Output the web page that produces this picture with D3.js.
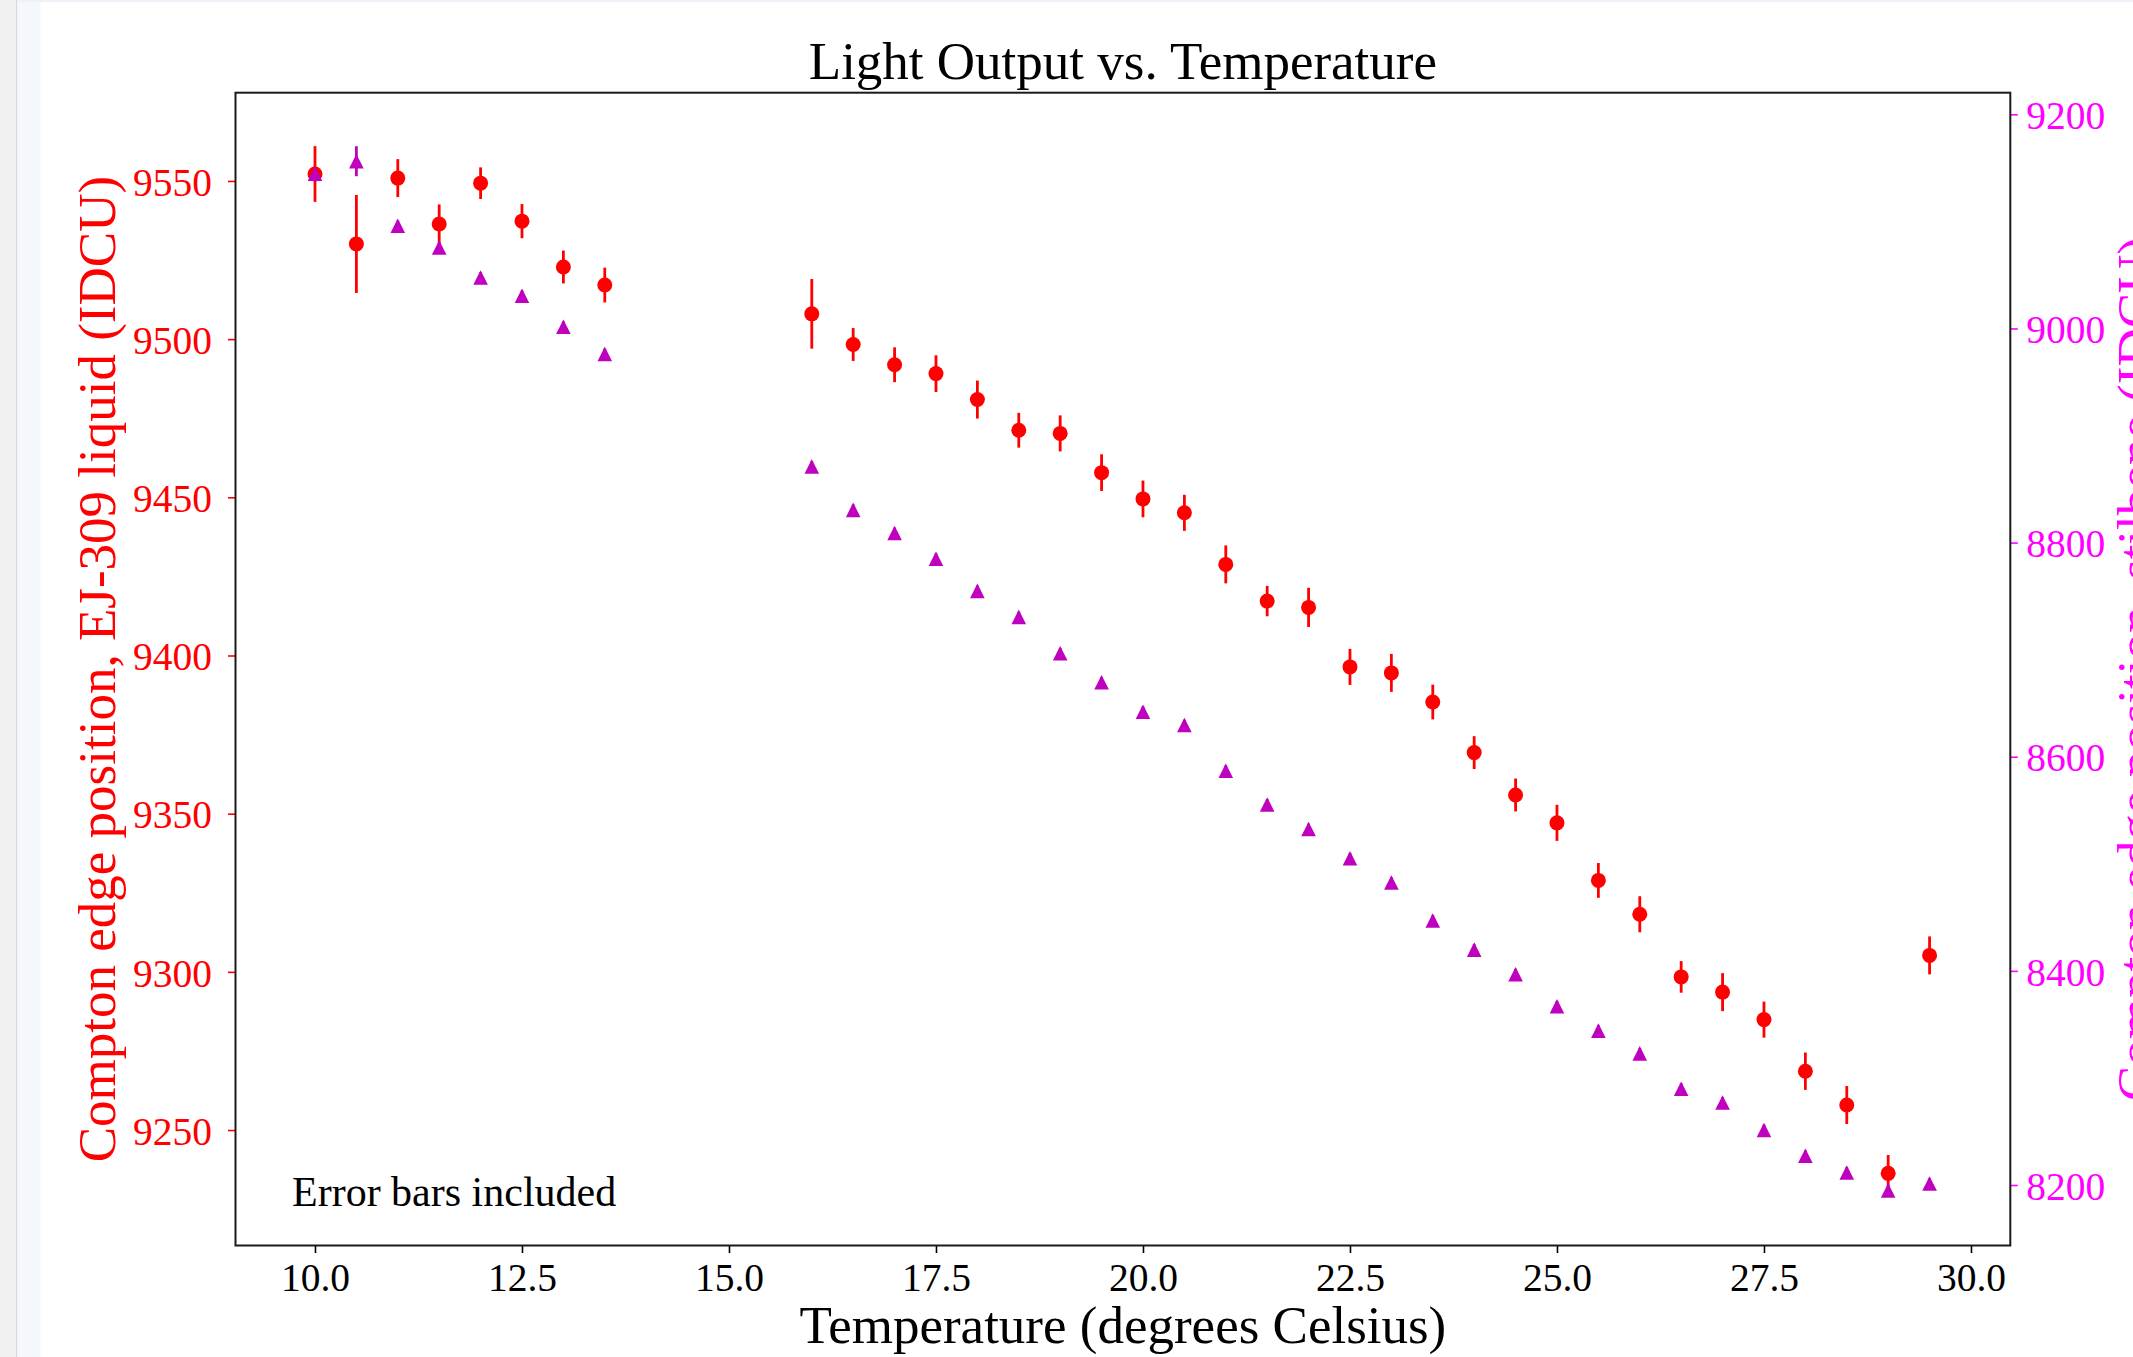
<!DOCTYPE html>
<html>
<head>
<meta charset="utf-8">
<script src="https://d3js.org/d3.v7.min.js"></script>
<style>
  html, body { margin: 0; padding: 0; background: #fff; overflow: hidden; }
  svg { display: block; font-family: "Liberation Serif", "Times New Roman", serif; }
  svg text { font-family: "Liberation Serif", "Times New Roman", serif; }
</style>
</head>
<body>
<svg id="chart" width="2133" height="1357"></svg>
<script>
// temperatures (degrees Celsius)
const temps = [10.0, 10.5, 11.0, 11.5, 12.0, 12.5, 13.0, 13.5,
  16.0, 16.5, 17.0, 17.5, 18.0, 18.5, 19.0, 19.5, 20.0, 20.5, 21.0, 21.5,
  22.0, 22.5, 23.0, 23.5, 24.0, 24.5, 25.0, 25.5, 26.0, 26.5, 27.0, 27.5,
  28.0, 28.5, 29.0, 29.5];

// EJ-309 liquid compton edge (left axis) + errors
const liquidEdge = [9552.2, 9530.1, 9550.9, 9536.4, 9549.3, 9537.3, 9522.8, 9517.1,
  9508.0, 9498.3, 9491.9, 9489.1, 9480.9, 9471.2, 9470.2, 9457.8, 9449.5, 9445.1, 9428.8, 9417.2,
  9415.2, 9396.4, 9394.5, 9385.3, 9369.3, 9355.9, 9347.1, 9328.9, 9318.2, 9298.4, 9293.6, 9284.9,
  9268.6, 9257.9, 9236.3, 9305.2];
const liquidErr = [8.8, 15.5, 6.0, 6.2, 5.0, 5.4, 5.2, 5.5,
  11.0, 5.2, 5.5, 5.8, 6.0, 5.5, 5.7, 5.8, 5.8, 5.7, 6.0, 4.8,
  6.2, 5.7, 6.0, 5.5, 5.2, 5.2, 5.7, 5.5, 5.7, 5.0, 6.0, 5.7,
  5.9, 6.0, 5.8, 6.0];

// stilbene compton edge (right axis) + errors
const stilbeneEdge = [9144.5, 9156.2, 9095.9, 9075.6, 9047.6, 9030.5, 9001.6, 8976.1,
  8871.1, 8830.6, 8808.9, 8784.9, 8754.9, 8730.5, 8696.6, 8669.5, 8642.0, 8629.6, 8586.9, 8555.4,
  8532.5, 8505.2, 8482.5, 8447.0, 8419.8, 8396.9, 8366.9, 8344.2, 8322.9, 8289.9, 8277.0, 8251.4,
  8227.3, 8211.7, 8194.9, 8201.4];
const stilbeneErr = [5, 14, 5, 5, 5, 5, 5, 5,
  5, 5, 5, 5, 5, 5, 5, 5, 5, 5, 5, 5,
  5, 5, 5, 5, 5, 5, 5, 5, 5, 5, 5, 5,
  5, 5, 5, 5];

const xTicks = [10.0, 12.5, 15.0, 17.5, 20.0, 22.5, 25.0, 27.5, 30.0];
const leftTicks = [9250, 9300, 9350, 9400, 9450, 9500, 9550];
const rightTicks = [8200, 8400, 8600, 8800, 9000, 9200];

const plot = { left: 235.5, right: 2010.3, top: 92.7, bottom: 1245.5 };
const red = "#ff0000", magenta = "#ff00ff", purple = "#bf00bf";
const tickFont = 39.5, labelFont = 53;

const svg = d3.select("#chart");

// browser chrome strip on the left of the screenshot
svg.append("rect").attr("x", 0).attr("y", 0).attr("width", 16).attr("height", 1357).attr("fill", "#f1f1f1");
svg.append("rect").attr("x", 16).attr("y", 0).attr("width", 1.5).attr("height", 1357).attr("fill", "#d9d9d9");
svg.append("rect").attr("x", 17.5).attr("y", 0).attr("width", 23).attr("height", 1357).attr("fill", "#f4f7fc");
svg.append("rect").attr("x", 17.5).attr("y", 0).attr("width", 2116).attr("height", 2).attr("fill", "#eef2f8");

const x = d3.scaleLinear().domain([9.04, 30.475]).range([plot.left, plot.right]);
const yL = d3.scaleLinear().domain([9213.5, 9577.9]).range([plot.bottom, plot.top]);
const yR = d3.scaleLinear().domain([8143.5, 9220.2]).range([plot.bottom, plot.top]);

// axes
const gx = svg.append("g")
  .attr("transform", `translate(0,${plot.bottom})`)
  .call(d3.axisBottom(x).tickValues(xTicks).tickFormat(d3.format(".1f")).tickSize(7.5).tickPadding(9.5));

const gl = svg.append("g")
  .attr("transform", `translate(${plot.left},0)`)
  .call(d3.axisLeft(yL).tickValues(leftTicks).tickFormat(d3.format("d")).tickSize(7.5).tickPadding(16));

const gr = svg.append("g")
  .attr("transform", `translate(${plot.right},0)`)
  .call(d3.axisRight(yR).tickValues(rightTicks).tickFormat(d3.format("d")).tickSize(7.5).tickPadding(8.5));

[gx, gl, gr].forEach(g => {
  g.attr("font-family", null).attr("font-size", tickFont);
  g.select(".domain").remove();
  g.selectAll("line").attr("stroke-width", 1.6);
});
gx.selectAll("line").attr("stroke", "#000");
gx.selectAll("text").attr("fill", "#000");
gl.selectAll("line").attr("stroke", red);
gl.selectAll("text").attr("fill", red).attr("dy", "0.36em");
gr.selectAll("line").attr("stroke", magenta);
gr.selectAll("text").attr("fill", magenta).attr("dy", "0.36em");

// liquid series: error bars then circles
const liquid = temps.map((t, i) => ({ t, v: liquidEdge[i], e: liquidErr[i] }));
svg.append("g").selectAll("line").data(liquid).join("line")
  .attr("x1", d => x(d.t)).attr("x2", d => x(d.t))
  .attr("y1", d => yL(d.v - d.e)).attr("y2", d => yL(d.v + d.e))
  .attr("stroke", red).attr("stroke-width", 2.8);
svg.append("g").selectAll("circle").data(liquid).join("circle")
  .attr("cx", d => x(d.t)).attr("cy", d => yL(d.v)).attr("r", 7.5)
  .attr("fill", red);

// stilbene series: error bars then triangles
const stilbene = temps.map((t, i) => ({ t, v: stilbeneEdge[i], e: stilbeneErr[i] }));
svg.append("g").selectAll("line").data(stilbene).join("line")
  .attr("x1", d => x(d.t)).attr("x2", d => x(d.t))
  .attr("y1", d => yR(d.v - d.e)).attr("y2", d => yR(d.v + d.e))
  .attr("stroke", purple).attr("stroke-width", 2.8);
const tri = 7.3;
svg.append("g").selectAll("path").data(stilbene).join("path")
  .attr("d", d => {
    const cx = x(d.t), cy = yR(d.v);
    return `M${cx},${cy - tri}L${cx + tri},${cy + tri}L${cx - tri},${cy + tri}Z`;
  })
  .attr("fill", purple);

// frame
svg.append("rect")
  .attr("x", plot.left).attr("y", plot.top)
  .attr("width", plot.right - plot.left).attr("height", plot.bottom - plot.top)
  .attr("fill", "none").attr("stroke", "#1a1a1a").attr("stroke-width", 2);

const cx = (plot.left + plot.right) / 2, cy = (plot.top + plot.bottom) / 2;

// title and labels
svg.append("text").attr("x", cx).attr("y", 79).attr("text-anchor", "middle")
  .attr("font-size", labelFont).attr("fill", "#000").text("Light Output vs. Temperature");

svg.append("text").attr("x", cx).attr("y", 1343).attr("text-anchor", "middle")
  .attr("font-size", labelFont).attr("fill", "#000").text("Temperature (degrees Celsius)");

svg.append("text").attr("transform", `translate(114.5,${cy}) rotate(-90)`)
  .attr("text-anchor", "middle").attr("font-size", labelFont).attr("fill", red)
  .text("Compton edge position, EJ-309 liquid (IDCU)");

// right label runs off the page edge in the reference as well
svg.append("text").attr("transform", `translate(2153.5,${cy}) rotate(-90)`)
  .attr("text-anchor", "middle").attr("font-size", labelFont).attr("fill", magenta)
  .text("Compton edge position, stilbene (IDCU)");

svg.append("text").attr("x", 292).attr("y", 1206)
  .attr("font-size", 42).attr("fill", "#000").text("Error bars included");
</script>
</body>
</html>
